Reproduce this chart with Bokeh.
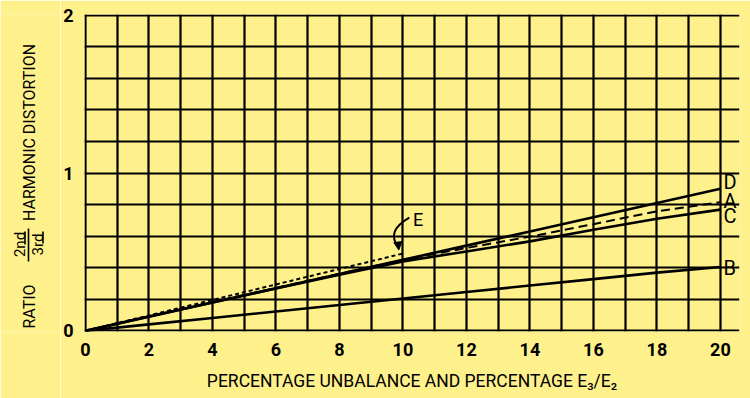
import numpy as np
from bokeh.plotting import figure
from bokeh.layouts import row
from bokeh.models import (FixedTicker, Range1d, Arrow, NormalHead)
from bokeh.core.properties import value
from bokeh.embed import file_html
from bokeh.resources import INLINE

# ---- data ----
x_pts = [0, 2, 4, 6, 8, 10, 12, 14, 16, 18, 20]
curve_D = [0, 0.090, 0.180, 0.270, 0.360, 0.450, 0.540, 0.630, 0.720, 0.810, 0.900]
curve_A = [0, 0.092, 0.183, 0.272, 0.362, 0.450, 0.525, 0.597, 0.676, 0.757, 0.815]
curve_C = [0, 0.091, 0.180, 0.268, 0.355, 0.440, 0.503, 0.567, 0.640, 0.710, 0.768]
curve_B = [0, 0.041, 0.082, 0.123, 0.164, 0.205, 0.246, 0.287, 0.328, 0.369, 0.405]
x_E = [0, 2, 4, 6, 8, 10]
curve_E = [0, 0.098, 0.196, 0.294, 0.392, 0.490]

x_ticks = [0, 2, 4, 6, 8, 10, 12, 14, 16, 18, 20]
y_ticks = [0, 1, 2]
x_grid = list(range(0, 21))
y_grid = [0, 0.2, 0.4, 0.6, 0.8, 1.0, 1.2, 1.4, 1.6, 1.8, 2.0]

end_labels = ["D", "A", "C", "B"]
end_label_x = [20, 20, 20, 20]
end_label_y = [0.94, 0.82, 0.725, 0.40]

BG = "#fef18c"
FONT = "Roboto"
TOP, BOTTOM = 14, 67

# ---------------- main chart ----------------
p = figure(width=690, height=398, output_backend="svg", toolbar_location=None,
           x_range=Range1d(-0.03, 20.6), y_range=Range1d(-0.004, 2.004),
           min_border_left=24, min_border_right=11, min_border_top=TOP, min_border_bottom=BOTTOM)
p.background_fill_color = BG
p.border_fill_color = BG
p.outline_line_color = None

# grid (forms the boxed grid)
p.xgrid.ticker = FixedTicker(ticks=x_grid)
p.ygrid.ticker = FixedTicker(ticks=y_grid)
p.xgrid.bounds = (0, 2)
p.ygrid.bounds = (0, 20)
for g in (p.xgrid, p.ygrid):
    g.grid_line_color = "black"
    g.grid_line_width = 2.2
    g.grid_line_alpha = 1

# axes
p.xaxis.ticker = FixedTicker(ticks=x_ticks)
p.yaxis.ticker = FixedTicker(ticks=y_ticks)
p.xaxis.bounds = (0, 20)
p.yaxis.bounds = (0, 2)
for ax in (p.xaxis, p.yaxis):
    ax.axis_line_color = None
    ax.major_tick_line_color = None
    ax.minor_tick_line_color = None
    ax.major_label_text_font = FONT
    ax.major_label_text_font_style = "bold"
    ax.major_label_text_font_size = "18px"
    ax.major_label_text_color = "black"
p.xaxis.major_label_standoff = 5
p.yaxis.major_label_standoff = 5
p.xaxis.axis_label = "PERCENTAGE UNBALANCE AND PERCENTAGE E\u2083/E\u2082"
p.xaxis.axis_label_text_font = FONT
p.xaxis.axis_label_text_font_style = "normal"
p.xaxis.axis_label_text_font_size = "17.5px"
p.xaxis.axis_label_text_color = "black"
p.xaxis.axis_label_standoff = 12

# curves
p.line(x_pts, curve_D, line_color="black", line_width=2.6)
p.line(x_pts, curve_C, line_color="black", line_width=2.6)
p.line(x_pts, curve_B, line_color="black", line_width=2.6)
p.line(x_pts, curve_A, line_color="black", line_width=2, line_dash="9 5")
p.line(x_E, curve_E, line_color="black", line_width=2, line_dash="4 3")

# end-of-curve letters
p.text(x=end_label_x, y=end_label_y, text=end_labels, x_offset=3,
       text_font=value(FONT), text_font_size="20px", text_baseline="middle",
       text_align="left", text_color="black")

# E label with curved arrow
p.text(x=[10.48], y=[0.705], text=["E"], text_font=value(FONT), text_font_size="18px",
       text_baseline="middle", text_align="center", text_color="black")
p.quadratic(x0=10.20, y0=0.717, x1=9.86, y1=0.53, cx=9.45, cy=0.63,
            line_color="black", line_width=2)
p.add_layout(Arrow(end=NormalHead(size=8, line_color="black", fill_color="black"),
                   x_start=9.84, y_start=0.56, x_end=9.87, y_end=0.512,
                   line_color="black", line_width=2))

# ---------------- left strip: rotated y-axis title ----------------
pl = figure(width=60, height=398, output_backend="svg", toolbar_location=None,
            x_range=Range1d(0, 60), y_range=Range1d(398 - BOTTOM, TOP),
            x_axis_type=None, y_axis_type=None,
            min_border_left=0, min_border_right=0, min_border_top=TOP, min_border_bottom=BOTTOM)
pl.background_fill_color = BG
pl.border_fill_color = BG
pl.outline_line_color = None
pl.grid.visible = False

ang = np.pi / 2
title_parts = ["RATIO", "HARMONIC DISTORTION"]
title_x = [28.5, 28.5]
title_y = [306, 132]
pl.text(x=title_x, y=title_y, text=title_parts, angle=ang, text_font=value(FONT),
        text_font_size="16px", text_baseline="middle", text_align="center",
        text_color="black")
frac_parts = ["2nd", "3rd"]
frac_x = [19, 37]
frac_y = [244, 244]
pl.text(x=frac_x, y=frac_y, text=frac_parts, angle=ang, text_font=value(FONT),
        text_font_size="15px", text_baseline="middle", text_align="center",
        text_color="black")
# underlines of the superscript letters and the fraction bar
pl.segment(x0=[24.5, 42.5, 28], y0=[244, 243, 261], x1=[24.5, 42.5, 28], y1=[231, 231, 228],
           line_color="black", line_width=1.6)

layout = row(pl, p, spacing=0)
open("out.html", "w").write(file_html(layout, INLINE))
